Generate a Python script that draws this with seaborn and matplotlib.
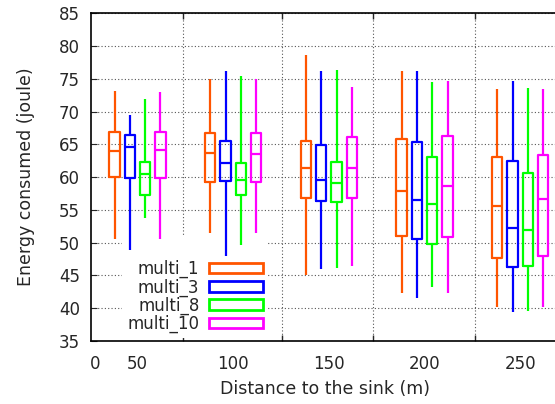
import pandas as pd
import seaborn as sns
import matplotlib
matplotlib.use("Agg")
import matplotlib.pyplot as plt
from matplotlib.patches import Patch

# distance groups (x categories)
distances = ["50", "100", "150", "200", "250"]
series = ["multi_1", "multi_3", "multi_8", "multi_10"]
colors = ["#ff5500", "#0000ff", "#00ff00", "#ff00ff"]

# (whisker low, q1, median, q3, whisker high) per distance
multi_1 = [(50.5, 60.0, 64.0, 66.9, 73.1),
           (51.5, 59.3, 63.7, 66.7, 74.9),
           (45.0, 56.8, 61.4, 65.5, 78.6),
           (42.3, 51.0, 57.9, 65.8, 76.2),
           (40.2, 47.7, 55.6, 63.0, 73.4)]
multi_3 = [(48.9, 59.8, 64.6, 66.4, 69.5),
           (47.9, 59.4, 62.2, 65.5, 76.2),
           (46.0, 56.3, 59.6, 64.9, 76.2),
           (41.5, 50.6, 56.5, 65.3, 76.2),
           (39.4, 46.3, 52.2, 62.5, 74.6)]
multi_8 = [(53.7, 57.3, 60.5, 62.3, 72.0),
           (49.6, 57.3, 59.5, 62.2, 75.4),
           (46.2, 56.2, 59.1, 62.3, 76.4),
           (43.2, 49.8, 55.9, 63.1, 74.5),
           (39.6, 46.4, 52.0, 60.6, 73.6)]
multi_10 = [(50.5, 59.8, 64.2, 66.9, 73.0),
            (51.5, 59.2, 63.5, 66.8, 74.9),
            (46.5, 56.8, 61.4, 66.1, 73.7),
            (42.3, 50.8, 58.6, 66.3, 74.7),
            (40.2, 48.0, 56.6, 63.4, 73.4)]

all_series = [multi_1, multi_3, multi_8, multi_10]

rows = []
for name, stats in zip(series, all_series):
    for d, five in zip(distances, stats):
        for v in five:
            rows.append({"distance": d, "energy": v, "series": name})
df = pd.DataFrame(rows)

sns.set_style("white")
plt.rcParams["font.family"] = ["DejaVu Sans"]
plt.rcParams["font.size"] = 12

fig = plt.figure(figsize=(5.55, 4.04), dpi=100)
ax = fig.add_axes([91 / 555, 1 - 341 / 404, 469 / 555, 327.7 / 404])

sns.boxplot(data=df, x="distance", y="energy", hue="series",
            order=distances, hue_order=series, palette=colors,
            whis=(0, 100), fill=False, width=0.64, gap=0.325,
            showcaps=False, linewidth=1.6, legend=False, ax=ax)

ax.set_ylim(35, 85)
ax.set_yticks(range(35, 90, 5))
ax.set_xlim((91 - 137.5) / 95.7, (560 - 137.5) / 95.7)
ax.set_xticks([(95 - 137.5) / 95.7, 0, 1, 2, 3, 4])
ax.set_xticklabels(["0"] + distances)
ax.set_xticks([0.472, 1.513, 2.464, 3.530], minor=True)
ax.tick_params(axis="x", which="major", length=0, pad=10)
ax.tick_params(axis="x", which="minor", direction="in", length=4,
               top=True, bottom=True, width=1)
ax.tick_params(axis="y", direction="in", length=4, left=True, pad=8)

ax.grid(True, axis="y", which="major", color="#555555",
        linestyle=(0, (1, 2)), linewidth=0.8)
ax.grid(True, axis="x", which="minor", color="#555555",
        linestyle=(0, (1, 2)), linewidth=0.8)
ax.set_axisbelow(True)

for s in ["left", "bottom", "top"]:
    ax.spines[s].set_color("black")
    ax.spines[s].set_linewidth(1.2)
ax.spines["right"].set_visible(False)

ax.set_xlabel("Distance to the sink (m)", fontsize=12.5, labelpad=5)
ax.set_ylabel("Energy consumed (joule)", fontsize=12.5, labelpad=17)

handles = [Patch(facecolor="none", edgecolor=c, linewidth=2) for c in colors]
leg = ax.legend(handles, series, loc="lower right",
                bbox_to_anchor=(0.377, 0.009), borderaxespad=0,
                markerfirst=False, title=" ",
                frameon=True, fancybox=False, framealpha=1,
                handlelength=3.2, handleheight=0.6, labelspacing=0.0,
                handletextpad=0.6, borderpad=0.3, fontsize=12)
leg.get_frame().set_edgecolor("none")
leg.get_frame().set_facecolor("white")
# keep the white key box above the grid but below the boxes
leg.set_zorder(0.9)

fig.savefig("out.png", dpi=100)
